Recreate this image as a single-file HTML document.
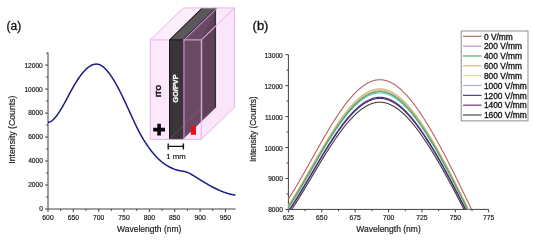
<!DOCTYPE html>
<html><head><meta charset="utf-8"><style>
html,body{margin:0;padding:0;background:#fff;}
svg{display:block;will-change:transform;filter:blur(0.3px);}
text{font-family:"Liberation Sans", sans-serif;}
.t{fill:#1a1a1a;stroke:#1a1a1a;stroke-width:0.18px;}
.t2{fill:#111;stroke:#111;stroke-width:0.3px;}
.t3{fill:#111;stroke:#111;stroke-width:0.3px;}
</style></head><body>
<svg width="533" height="238" viewBox="0 0 533 238">
<defs><clipPath id="purp"><polygon points="183.0,39.9 216.2,7.9 216.2,107.3 183.0,139.3"/></clipPath><clipPath id="rc"><rect x="288" y="40" width="201" height="169.5"/></clipPath></defs>
<rect width="533" height="238" fill="#fff"/>
<path d="M48.0,52.53 V209.0 H235.55" fill="none" stroke="#404040" stroke-width="1"/>
<line x1="45.0" y1="209.00" x2="48.0" y2="209.00" stroke="#404040" stroke-width="1"/>
<text x="42.8" y="211.40" font-size="6.6" text-anchor="end" class="t">0</text>
<line x1="46.2" y1="197.01" x2="48.0" y2="197.01" stroke="#404040" stroke-width="1"/>
<line x1="45.0" y1="185.02" x2="48.0" y2="185.02" stroke="#404040" stroke-width="1"/>
<text x="42.8" y="187.42" font-size="6.6" text-anchor="end" class="t">2000</text>
<line x1="46.2" y1="173.03" x2="48.0" y2="173.03" stroke="#404040" stroke-width="1"/>
<line x1="45.0" y1="161.04" x2="48.0" y2="161.04" stroke="#404040" stroke-width="1"/>
<text x="42.8" y="163.44" font-size="6.6" text-anchor="end" class="t">4000</text>
<line x1="46.2" y1="149.05" x2="48.0" y2="149.05" stroke="#404040" stroke-width="1"/>
<line x1="45.0" y1="137.06" x2="48.0" y2="137.06" stroke="#404040" stroke-width="1"/>
<text x="42.8" y="139.46" font-size="6.6" text-anchor="end" class="t">6000</text>
<line x1="46.2" y1="125.07" x2="48.0" y2="125.07" stroke="#404040" stroke-width="1"/>
<line x1="45.0" y1="113.08" x2="48.0" y2="113.08" stroke="#404040" stroke-width="1"/>
<text x="42.8" y="115.48" font-size="6.6" text-anchor="end" class="t">8000</text>
<line x1="46.2" y1="101.09" x2="48.0" y2="101.09" stroke="#404040" stroke-width="1"/>
<line x1="45.0" y1="89.10" x2="48.0" y2="89.10" stroke="#404040" stroke-width="1"/>
<text x="42.8" y="91.50" font-size="6.6" text-anchor="end" class="t">10000</text>
<line x1="46.2" y1="77.11" x2="48.0" y2="77.11" stroke="#404040" stroke-width="1"/>
<line x1="45.0" y1="65.12" x2="48.0" y2="65.12" stroke="#404040" stroke-width="1"/>
<text x="42.8" y="67.52" font-size="6.6" text-anchor="end" class="t">12000</text>
<line x1="46.2" y1="53.13" x2="48.0" y2="53.13" stroke="#404040" stroke-width="1"/>
<line x1="48.00" y1="209.0" x2="48.00" y2="212.0" stroke="#404040" stroke-width="1"/>
<text x="48.00" y="219.9" font-size="6.8" text-anchor="middle" class="t">600</text>
<line x1="60.67" y1="209.0" x2="60.67" y2="210.8" stroke="#404040" stroke-width="1"/>
<line x1="73.34" y1="209.0" x2="73.34" y2="212.0" stroke="#404040" stroke-width="1"/>
<text x="73.34" y="219.9" font-size="6.8" text-anchor="middle" class="t">650</text>
<line x1="86.02" y1="209.0" x2="86.02" y2="210.8" stroke="#404040" stroke-width="1"/>
<line x1="98.69" y1="209.0" x2="98.69" y2="212.0" stroke="#404040" stroke-width="1"/>
<text x="98.69" y="219.9" font-size="6.8" text-anchor="middle" class="t">700</text>
<line x1="111.36" y1="209.0" x2="111.36" y2="210.8" stroke="#404040" stroke-width="1"/>
<line x1="124.03" y1="209.0" x2="124.03" y2="212.0" stroke="#404040" stroke-width="1"/>
<text x="124.03" y="219.9" font-size="6.8" text-anchor="middle" class="t">750</text>
<line x1="136.71" y1="209.0" x2="136.71" y2="210.8" stroke="#404040" stroke-width="1"/>
<line x1="149.38" y1="209.0" x2="149.38" y2="212.0" stroke="#404040" stroke-width="1"/>
<text x="149.38" y="219.9" font-size="6.8" text-anchor="middle" class="t">800</text>
<line x1="162.05" y1="209.0" x2="162.05" y2="210.8" stroke="#404040" stroke-width="1"/>
<line x1="174.73" y1="209.0" x2="174.73" y2="212.0" stroke="#404040" stroke-width="1"/>
<text x="174.73" y="219.9" font-size="6.8" text-anchor="middle" class="t">850</text>
<line x1="187.40" y1="209.0" x2="187.40" y2="210.8" stroke="#404040" stroke-width="1"/>
<line x1="200.07" y1="209.0" x2="200.07" y2="212.0" stroke="#404040" stroke-width="1"/>
<text x="200.07" y="219.9" font-size="6.8" text-anchor="middle" class="t">900</text>
<line x1="212.74" y1="209.0" x2="212.74" y2="210.8" stroke="#404040" stroke-width="1"/>
<line x1="225.41" y1="209.0" x2="225.41" y2="212.0" stroke="#404040" stroke-width="1"/>
<text x="225.41" y="219.9" font-size="6.8" text-anchor="middle" class="t">950</text>
<text x="149.2" y="231.7" font-size="8.5" text-anchor="middle" class="t">Wavelength (nm)</text>
<text transform="translate(14.7,129.6) rotate(-90)" font-size="8.7" text-anchor="middle" class="t">Intensity (Counts)</text>
<path d="M48.0,122.43 L48.5,122.35 L49.0,122.23 L49.5,122.07 L50.0,121.86 L50.5,121.62 L51.0,121.33 L51.5,121.01 L52.0,120.65 L52.5,120.26 L53.0,119.83 L53.5,119.37 L54.0,118.87 L54.5,118.35 L55.0,117.79 L55.5,117.21 L56.0,116.60 L56.5,115.96 L57.0,115.30 L57.5,114.62 L58.0,113.91 L58.5,113.17 L59.0,112.42 L59.5,111.65 L60.0,110.86 L60.5,110.05 L61.0,109.23 L61.5,108.39 L62.0,107.53 L62.5,106.66 L63.0,105.78 L63.5,104.89 L64.0,104.00 L64.5,103.09 L65.0,102.17 L65.5,101.25 L66.0,100.32 L66.5,99.39 L67.0,98.46 L67.5,97.52 L68.0,96.58 L68.5,95.65 L69.0,94.71 L69.5,93.78 L70.0,92.85 L70.5,91.92 L71.0,91.01 L71.5,90.09 L72.0,89.19 L72.5,88.30 L73.0,87.41 L73.5,86.54 L74.0,85.68 L74.5,84.83 L75.0,83.99 L75.5,83.16 L76.0,82.35 L76.5,81.55 L77.0,80.76 L77.5,79.99 L78.0,79.23 L78.5,78.48 L79.0,77.75 L79.5,77.03 L80.0,76.33 L80.5,75.65 L81.0,74.98 L81.5,74.33 L82.0,73.69 L82.5,73.07 L83.0,72.47 L83.5,71.89 L84.0,71.32 L84.5,70.77 L85.0,70.24 L85.5,69.73 L86.0,69.25 L86.5,68.78 L87.0,68.33 L87.5,67.90 L88.0,67.49 L88.5,67.10 L89.0,66.74 L89.5,66.39 L90.0,66.07 L90.5,65.78 L91.0,65.50 L91.5,65.25 L92.0,65.02 L92.5,64.82 L93.0,64.64 L93.5,64.49 L94.0,64.36 L94.5,64.25 L95.0,64.18 L95.5,64.13 L96.0,64.10 L96.5,64.10 L97.0,64.13 L97.5,64.19 L98.0,64.28 L98.5,64.39 L99.0,64.53 L99.5,64.70 L100.0,64.90 L100.5,65.13 L101.0,65.39 L101.5,65.68 L102.0,66.00 L102.5,66.34 L103.0,66.71 L103.5,67.11 L104.0,67.53 L104.5,67.98 L105.0,68.45 L105.5,68.95 L106.0,69.47 L106.5,70.02 L107.0,70.58 L107.5,71.17 L108.0,71.78 L108.5,72.41 L109.0,73.06 L109.5,73.73 L110.0,74.42 L110.5,75.13 L111.0,75.86 L111.5,76.60 L112.0,77.36 L112.5,78.14 L113.0,78.93 L113.5,79.74 L114.0,80.57 L114.5,81.40 L115.0,82.26 L115.5,83.12 L116.0,84.00 L116.5,84.89 L117.0,85.80 L117.5,86.72 L118.0,87.65 L118.5,88.59 L119.0,89.55 L119.5,90.51 L120.0,91.49 L120.5,92.48 L121.0,93.48 L121.5,94.48 L122.0,95.50 L122.5,96.53 L123.0,97.57 L123.5,98.61 L124.0,99.66 L124.5,100.72 L125.0,101.79 L125.5,102.86 L126.0,103.94 L126.5,105.02 L127.0,106.11 L127.5,107.20 L128.0,108.29 L128.5,109.39 L129.0,110.48 L129.5,111.58 L130.0,112.68 L130.5,113.77 L131.0,114.86 L131.5,115.96 L132.0,117.05 L132.5,118.13 L133.0,119.21 L133.5,120.29 L134.0,121.36 L134.5,122.43 L135.0,123.49 L135.5,124.55 L136.0,125.59 L136.5,126.62 L137.0,127.65 L137.5,128.65 L138.0,129.65 L138.5,130.63 L139.0,131.59 L139.5,132.54 L140.0,133.47 L140.5,134.38 L141.0,135.28 L141.5,136.16 L142.0,137.03 L142.5,137.87 L143.0,138.71 L143.5,139.53 L144.0,140.33 L144.5,141.12 L145.0,141.90 L145.5,142.68 L146.0,143.46 L146.5,144.22 L147.0,144.97 L147.5,145.71 L148.0,146.43 L148.5,147.14 L149.0,147.85 L149.5,148.54 L150.0,149.21 L150.5,149.88 L151.0,150.53 L151.5,151.18 L152.0,151.81 L152.5,152.43 L153.0,153.04 L153.5,153.63 L154.0,154.22 L154.5,154.79 L155.0,155.36 L155.5,155.91 L156.0,156.45 L156.5,156.98 L157.0,157.49 L157.5,158.00 L158.0,158.50 L158.5,158.98 L159.0,159.46 L159.5,159.92 L160.0,160.37 L160.5,160.81 L161.0,161.24 L161.5,161.66 L162.0,162.07 L162.5,162.47 L163.0,162.86 L163.5,163.24 L164.0,163.61 L164.5,163.97 L165.0,164.31 L165.5,164.65 L166.0,164.98 L166.5,165.29 L167.0,165.60 L167.5,165.90 L168.0,166.19 L168.5,166.47 L169.0,166.74 L169.5,167.00 L170.0,167.26 L170.5,167.51 L171.0,167.75 L171.5,167.98 L172.0,168.20 L172.5,168.42 L173.0,168.63 L173.5,168.84 L174.0,169.04 L174.5,169.23 L175.0,169.42 L175.5,169.59 L176.0,169.76 L176.5,169.92 L177.0,170.07 L177.5,170.21 L178.0,170.34 L178.5,170.46 L179.0,170.56 L179.5,170.66 L180.0,170.74 L180.5,170.83 L181.0,170.90 L181.5,170.98 L182.0,171.06 L182.5,171.14 L183.0,171.23 L183.5,171.32 L184.0,171.41 L184.5,171.52 L185.0,171.64 L185.5,171.77 L186.0,171.92 L186.5,172.09 L187.0,172.27 L187.5,172.47 L188.0,172.68 L188.5,172.90 L189.0,173.14 L189.5,173.39 L190.0,173.64 L190.5,173.91 L191.0,174.19 L191.5,174.48 L192.0,174.77 L192.5,175.06 L193.0,175.37 L193.5,175.67 L194.0,175.98 L194.5,176.29 L195.0,176.61 L195.5,176.92 L196.0,177.23 L196.5,177.54 L197.0,177.86 L197.5,178.17 L198.0,178.48 L198.5,178.79 L199.0,179.10 L199.5,179.41 L200.0,179.72 L200.5,180.03 L201.0,180.34 L201.5,180.65 L202.0,180.96 L202.5,181.26 L203.0,181.57 L203.5,181.87 L204.0,182.17 L204.5,182.47 L205.0,182.77 L205.5,183.07 L206.0,183.36 L206.5,183.65 L207.0,183.95 L207.5,184.24 L208.0,184.52 L208.5,184.81 L209.0,185.09 L209.5,185.37 L210.0,185.65 L210.5,185.93 L211.0,186.20 L211.5,186.47 L212.0,186.74 L212.5,187.01 L213.0,187.27 L213.5,187.53 L214.0,187.79 L214.5,188.04 L215.0,188.29 L215.5,188.54 L216.0,188.78 L216.5,189.02 L217.0,189.26 L217.5,189.50 L218.0,189.73 L218.5,189.95 L219.0,190.18 L219.5,190.40 L220.0,190.61 L220.5,190.83 L221.0,191.04 L221.5,191.24 L222.0,191.44 L222.5,191.64 L223.0,191.83 L223.5,192.02 L224.0,192.20 L224.5,192.38 L225.0,192.56 L225.5,192.73 L226.0,192.90 L226.5,193.06 L227.0,193.22 L227.5,193.37 L228.0,193.52 L228.5,193.66 L229.0,193.80 L229.5,193.93 L230.0,194.06 L230.5,194.18 L231.0,194.30 L231.5,194.42 L232.0,194.52 L232.5,194.63 L233.0,194.72 L233.5,194.81 L234.0,194.90 L234.5,194.98 L235.0,195.06 L235.5,195.13" fill="none" stroke="#1b1b86" stroke-width="1.5" stroke-linejoin="round"/>
<path d="M288.4,54.70 V209.4 H488.69" fill="none" stroke="#404040" stroke-width="1"/>
<line x1="285.4" y1="209.40" x2="288.4" y2="209.40" stroke="#404040" stroke-width="1"/>
<text x="282.8" y="212.40" font-size="6.6" text-anchor="end" class="t">8000</text>
<line x1="286.59999999999997" y1="193.93" x2="288.4" y2="193.93" stroke="#404040" stroke-width="1"/>
<line x1="285.4" y1="178.46" x2="288.4" y2="178.46" stroke="#404040" stroke-width="1"/>
<text x="282.8" y="181.46" font-size="6.6" text-anchor="end" class="t">9000</text>
<line x1="286.59999999999997" y1="162.99" x2="288.4" y2="162.99" stroke="#404040" stroke-width="1"/>
<line x1="285.4" y1="147.52" x2="288.4" y2="147.52" stroke="#404040" stroke-width="1"/>
<text x="282.8" y="150.52" font-size="6.6" text-anchor="end" class="t">10000</text>
<line x1="286.59999999999997" y1="132.05" x2="288.4" y2="132.05" stroke="#404040" stroke-width="1"/>
<line x1="285.4" y1="116.58" x2="288.4" y2="116.58" stroke="#404040" stroke-width="1"/>
<text x="282.8" y="119.58" font-size="6.6" text-anchor="end" class="t">11000</text>
<line x1="286.59999999999997" y1="101.11" x2="288.4" y2="101.11" stroke="#404040" stroke-width="1"/>
<line x1="285.4" y1="85.64" x2="288.4" y2="85.64" stroke="#404040" stroke-width="1"/>
<text x="282.8" y="88.64" font-size="6.6" text-anchor="end" class="t">12000</text>
<line x1="286.59999999999997" y1="70.17" x2="288.4" y2="70.17" stroke="#404040" stroke-width="1"/>
<line x1="285.4" y1="54.70" x2="288.4" y2="54.70" stroke="#404040" stroke-width="1"/>
<text x="282.8" y="57.70" font-size="6.6" text-anchor="end" class="t">13000</text>
<line x1="288.40" y1="209.4" x2="288.40" y2="212.4" stroke="#404040" stroke-width="1"/>
<text x="288.40" y="219.9" font-size="6.8" text-anchor="middle" class="t">625</text>
<line x1="305.09" y1="209.4" x2="305.09" y2="211.20000000000002" stroke="#404040" stroke-width="1"/>
<line x1="321.78" y1="209.4" x2="321.78" y2="212.4" stroke="#404040" stroke-width="1"/>
<text x="321.78" y="219.9" font-size="6.8" text-anchor="middle" class="t">650</text>
<line x1="338.47" y1="209.4" x2="338.47" y2="211.20000000000002" stroke="#404040" stroke-width="1"/>
<line x1="355.16" y1="209.4" x2="355.16" y2="212.4" stroke="#404040" stroke-width="1"/>
<text x="355.16" y="219.9" font-size="6.8" text-anchor="middle" class="t">675</text>
<line x1="371.86" y1="209.4" x2="371.86" y2="211.20000000000002" stroke="#404040" stroke-width="1"/>
<line x1="388.55" y1="209.4" x2="388.55" y2="212.4" stroke="#404040" stroke-width="1"/>
<text x="388.55" y="219.9" font-size="6.8" text-anchor="middle" class="t">700</text>
<line x1="405.24" y1="209.4" x2="405.24" y2="211.20000000000002" stroke="#404040" stroke-width="1"/>
<line x1="421.93" y1="209.4" x2="421.93" y2="212.4" stroke="#404040" stroke-width="1"/>
<text x="421.93" y="219.9" font-size="6.8" text-anchor="middle" class="t">725</text>
<line x1="438.62" y1="209.4" x2="438.62" y2="211.20000000000002" stroke="#404040" stroke-width="1"/>
<line x1="455.31" y1="209.4" x2="455.31" y2="212.4" stroke="#404040" stroke-width="1"/>
<text x="455.31" y="219.9" font-size="6.8" text-anchor="middle" class="t">750</text>
<line x1="472.00" y1="209.4" x2="472.00" y2="211.20000000000002" stroke="#404040" stroke-width="1"/>
<line x1="488.69" y1="209.4" x2="488.69" y2="212.4" stroke="#404040" stroke-width="1"/>
<text x="488.69" y="219.9" font-size="6.8" text-anchor="middle" class="t">775</text>
<text x="388.55" y="231.7" font-size="8.5" text-anchor="middle" class="t">Wavelength (nm)</text>
<text transform="translate(255.8,129.2) rotate(-90)" font-size="8.4" text-anchor="middle" class="t">Intensity (Counts)</text>
<path d="M286.0,202.47 L286.5,201.74 L287.0,201.01 L287.5,200.27 L288.0,199.52 L288.5,198.77 L289.0,198.00 L289.5,197.24 L290.0,196.47 L290.5,195.69 L291.0,194.90 L291.5,194.11 L292.0,193.32 L292.5,192.52 L293.0,191.71 L293.5,190.90 L294.0,190.09 L294.5,189.27 L295.0,188.44 L295.5,187.61 L296.0,186.78 L296.5,185.94 L297.0,185.10 L297.5,184.25 L298.0,183.40 L298.5,182.55 L299.0,181.69 L299.5,180.83 L300.0,179.96 L300.5,179.10 L301.0,178.22 L301.5,177.35 L302.0,176.47 L302.5,175.59 L303.0,174.71 L303.5,173.83 L304.0,172.94 L304.5,172.05 L305.0,171.16 L305.5,170.28 L306.0,169.40 L306.5,168.51 L307.0,167.63 L307.5,166.74 L308.0,165.86 L308.5,164.97 L309.0,164.08 L309.5,163.19 L310.0,162.30 L310.5,161.41 L311.0,160.51 L311.5,159.62 L312.0,158.73 L312.5,157.83 L313.0,156.94 L313.5,156.04 L314.0,155.15 L314.5,154.26 L315.0,153.36 L315.5,152.47 L316.0,151.58 L316.5,150.69 L317.0,149.80 L317.5,148.91 L318.0,148.02 L318.5,147.13 L319.0,146.25 L319.5,145.36 L320.0,144.48 L320.5,143.60 L321.0,142.72 L321.5,141.84 L322.0,140.97 L322.5,140.10 L323.0,139.23 L323.5,138.36 L324.0,137.50 L324.5,136.63 L325.0,135.78 L325.5,134.92 L326.0,134.07 L326.5,133.22 L327.0,132.37 L327.5,131.53 L328.0,130.69 L328.5,129.86 L329.0,129.03 L329.5,128.20 L330.0,127.38 L330.5,126.56 L331.0,125.74 L331.5,124.93 L332.0,124.13 L332.5,123.33 L333.0,122.53 L333.5,121.74 L334.0,120.96 L334.5,120.18 L335.0,119.41 L335.5,118.62 L336.0,117.85 L336.5,117.07 L337.0,116.31 L337.5,115.55 L338.0,114.79 L338.5,114.04 L339.0,113.30 L339.5,112.56 L340.0,111.83 L340.5,111.10 L341.0,110.39 L341.5,109.67 L342.0,108.97 L342.5,108.27 L343.0,107.58 L343.5,106.89 L344.0,106.21 L344.5,105.54 L345.0,104.87 L345.5,104.21 L346.0,103.56 L346.5,102.92 L347.0,102.28 L347.5,101.65 L348.0,101.03 L348.5,100.41 L349.0,99.80 L349.5,99.20 L350.0,98.61 L350.5,98.02 L351.0,97.45 L351.5,96.88 L352.0,96.31 L352.5,95.76 L353.0,95.21 L353.5,94.68 L354.0,94.15 L354.5,93.62 L355.0,93.11 L355.5,92.61 L356.0,92.11 L356.5,91.62 L357.0,91.14 L357.5,90.67 L358.0,90.21 L358.5,89.76 L359.0,89.32 L359.5,88.88 L360.0,88.46 L360.5,88.04 L361.0,87.63 L361.5,87.23 L362.0,86.85 L362.5,86.47 L363.0,86.10 L363.5,85.74 L364.0,85.39 L364.5,85.05 L365.0,84.71 L365.5,84.39 L366.0,84.08 L366.5,83.78 L367.0,83.49 L367.5,83.21 L368.0,82.94 L368.5,82.68 L369.0,82.43 L369.5,82.19 L370.0,81.96 L370.5,81.74 L371.0,81.54 L371.5,81.34 L372.0,81.15 L372.5,80.98 L373.0,80.82 L373.5,80.66 L374.0,80.52 L374.5,80.39 L375.0,80.27 L375.5,80.16 L376.0,80.07 L376.5,79.98 L377.0,79.91 L377.5,79.85 L378.0,79.80 L378.5,79.76 L379.0,79.73 L379.5,79.72 L380.0,79.72 L380.5,79.73 L381.0,79.75 L381.5,79.78 L382.0,79.83 L382.5,79.88 L383.0,79.95 L383.5,80.03 L384.0,80.13 L384.5,80.23 L385.0,80.35 L385.5,80.47 L386.0,80.61 L386.5,80.76 L387.0,80.92 L387.5,81.09 L388.0,81.28 L388.5,81.47 L389.0,81.67 L389.5,81.89 L390.0,82.12 L390.5,82.35 L391.0,82.60 L391.5,82.86 L392.0,83.13 L392.5,83.40 L393.0,83.69 L393.5,83.99 L394.0,84.30 L394.5,84.62 L395.0,84.95 L395.5,85.29 L396.0,85.64 L396.5,86.00 L397.0,86.37 L397.5,86.75 L398.0,87.13 L398.5,87.53 L399.0,87.94 L399.5,88.36 L400.0,88.78 L400.5,89.22 L401.0,89.66 L401.5,90.11 L402.0,90.58 L402.5,91.05 L403.0,91.53 L403.5,92.02 L404.0,92.52 L404.5,93.02 L405.0,93.54 L405.5,94.06 L406.0,94.59 L406.5,95.13 L407.0,95.68 L407.5,96.24 L408.0,96.80 L408.5,97.38 L409.0,97.96 L409.5,98.55 L410.0,99.14 L410.5,99.75 L411.0,100.36 L411.5,100.98 L412.0,101.61 L412.5,102.25 L413.0,102.89 L413.5,103.54 L414.0,104.20 L414.5,104.86 L415.0,105.54 L415.5,106.21 L416.0,106.90 L416.5,107.59 L417.0,108.29 L417.5,109.00 L418.0,109.71 L418.5,110.44 L419.0,111.16 L419.5,111.90 L420.0,112.64 L420.5,113.38 L421.0,114.13 L421.5,114.89 L422.0,115.66 L422.5,116.43 L423.0,117.21 L423.5,117.99 L424.0,118.78 L424.5,119.57 L425.0,120.38 L425.5,121.17 L426.0,121.96 L426.5,122.77 L427.0,123.57 L427.5,124.39 L428.0,125.21 L428.5,126.03 L429.0,126.86 L429.5,127.69 L430.0,128.53 L430.5,129.38 L431.0,130.23 L431.5,131.08 L432.0,131.94 L432.5,132.80 L433.0,133.67 L433.5,134.54 L434.0,135.42 L434.5,136.30 L435.0,137.19 L435.5,138.08 L436.0,138.97 L436.5,139.87 L437.0,140.77 L437.5,141.68 L438.0,142.59 L438.5,143.50 L439.0,144.42 L439.5,145.34 L440.0,146.27 L440.5,147.20 L441.0,148.13 L441.5,149.06 L442.0,150.00 L442.5,150.94 L443.0,151.89 L443.5,152.84 L444.0,153.79 L444.5,154.74 L445.0,155.70 L445.5,156.66 L446.0,157.62 L446.5,158.59 L447.0,159.56 L447.5,160.53 L448.0,161.50 L448.5,162.48 L449.0,163.46 L449.5,164.44 L450.0,165.42 L450.5,166.40 L451.0,167.39 L451.5,168.38 L452.0,169.37 L452.5,170.36 L453.0,171.35 L453.5,172.35 L454.0,173.35 L454.5,174.35 L455.0,175.35 L455.5,176.36 L456.0,177.38 L456.5,178.40 L457.0,179.42 L457.5,180.44 L458.0,181.46 L458.5,182.49 L459.0,183.51 L459.5,184.54 L460.0,185.56 L460.5,186.59 L461.0,187.62 L461.5,188.65 L462.0,189.68 L462.5,190.70 L463.0,191.73 L463.5,192.76 L464.0,193.79 L464.5,194.82 L465.0,195.85 L465.5,196.88 L466.0,197.91 L466.5,198.94 L467.0,199.97 L467.5,201.00 L468.0,202.03 L468.5,203.06 L469.0,204.08 L469.5,205.11 L470.0,206.14 L470.5,207.16 L471.0,208.19 L471.5,209.21 L472.0,210.23 L472.5,211.26 L473.0,212.28 L473.5,213.30 L474.0,214.32 L474.5,215.33 L475.0,216.35 L475.5,217.36 L476.0,218.38 L476.5,219.39 L477.0,220.40 L477.5,221.40 L478.0,222.41 L478.5,223.41 L479.0,224.42 L479.5,225.42" fill="none" stroke="#b06262" stroke-width="1.1" clip-path="url(#rc)"/>
<path d="M286.0,209.81 L286.5,209.11 L287.0,208.39 L287.5,207.67 L288.0,206.95 L288.5,206.21 L289.0,205.48 L289.5,204.73 L290.0,203.98 L290.5,203.22 L291.0,202.46 L291.5,201.70 L292.0,200.92 L292.5,200.15 L293.0,199.37 L293.5,198.58 L294.0,197.79 L294.5,196.99 L295.0,196.19 L295.5,195.38 L296.0,194.57 L296.5,193.76 L297.0,192.94 L297.5,192.12 L298.0,191.29 L298.5,190.46 L299.0,189.63 L299.5,188.79 L300.0,187.95 L300.5,187.11 L301.0,186.27 L301.5,185.42 L302.0,184.56 L302.5,183.71 L303.0,182.85 L303.5,181.99 L304.0,181.13 L304.5,180.27 L305.0,179.40 L305.5,178.55 L306.0,177.69 L306.5,176.84 L307.0,175.98 L307.5,175.12 L308.0,174.26 L308.5,173.39 L309.0,172.53 L309.5,171.66 L310.0,170.80 L310.5,169.93 L311.0,169.06 L311.5,168.20 L312.0,167.33 L312.5,166.46 L313.0,165.59 L313.5,164.73 L314.0,163.86 L314.5,162.99 L315.0,162.12 L315.5,161.26 L316.0,160.39 L316.5,159.52 L317.0,158.66 L317.5,157.79 L318.0,156.93 L318.5,156.07 L319.0,155.21 L319.5,154.35 L320.0,153.50 L320.5,152.64 L321.0,151.79 L321.5,150.94 L322.0,150.09 L322.5,149.24 L323.0,148.39 L323.5,147.55 L324.0,146.71 L324.5,145.88 L325.0,145.04 L325.5,144.21 L326.0,143.38 L326.5,142.56 L327.0,141.74 L327.5,140.92 L328.0,140.10 L328.5,139.29 L329.0,138.49 L329.5,137.68 L330.0,136.88 L330.5,136.09 L331.0,135.30 L331.5,134.51 L332.0,133.73 L332.5,132.95 L333.0,132.18 L333.5,131.42 L334.0,130.65 L334.5,129.90 L335.0,129.15 L335.5,128.38 L336.0,127.63 L336.5,126.88 L337.0,126.13 L337.5,125.40 L338.0,124.66 L338.5,123.93 L339.0,123.21 L339.5,122.50 L340.0,121.79 L340.5,121.08 L341.0,120.38 L341.5,119.69 L342.0,119.01 L342.5,118.33 L343.0,117.66 L343.5,116.99 L344.0,116.33 L344.5,115.68 L345.0,115.03 L345.5,114.39 L346.0,113.76 L346.5,113.13 L347.0,112.51 L347.5,111.90 L348.0,111.29 L348.5,110.70 L349.0,110.11 L349.5,109.52 L350.0,108.95 L350.5,108.38 L351.0,107.82 L351.5,107.26 L352.0,106.72 L352.5,106.18 L353.0,105.65 L353.5,105.13 L354.0,104.61 L354.5,104.11 L355.0,103.61 L355.5,103.12 L356.0,102.64 L356.5,102.16 L357.0,101.70 L357.5,101.24 L358.0,100.79 L358.5,100.35 L359.0,99.92 L359.5,99.50 L360.0,99.09 L360.5,98.68 L361.0,98.29 L361.5,97.90 L362.0,97.52 L362.5,97.16 L363.0,96.80 L363.5,96.45 L364.0,96.11 L364.5,95.78 L365.0,95.45 L365.5,95.14 L366.0,94.84 L366.5,94.55 L367.0,94.27 L367.5,93.99 L368.0,93.73 L368.5,93.48 L369.0,93.24 L369.5,93.00 L370.0,92.78 L370.5,92.57 L371.0,92.37 L371.5,92.18 L372.0,92.00 L372.5,91.83 L373.0,91.67 L373.5,91.52 L374.0,91.38 L374.5,91.25 L375.0,91.14 L375.5,91.03 L376.0,90.94 L376.5,90.86 L377.0,90.79 L377.5,90.73 L378.0,90.68 L378.5,90.64 L379.0,90.62 L379.5,90.60 L380.0,90.60 L380.5,90.61 L381.0,90.63 L381.5,90.66 L382.0,90.71 L382.5,90.76 L383.0,90.83 L383.5,90.91 L384.0,91.00 L384.5,91.10 L385.0,91.21 L385.5,91.34 L386.0,91.47 L386.5,91.61 L387.0,91.77 L387.5,91.94 L388.0,92.11 L388.5,92.30 L389.0,92.50 L389.5,92.71 L390.0,92.93 L390.5,93.16 L391.0,93.40 L391.5,93.65 L392.0,93.91 L392.5,94.18 L393.0,94.46 L393.5,94.75 L394.0,95.05 L394.5,95.36 L395.0,95.68 L395.5,96.01 L396.0,96.35 L396.5,96.70 L397.0,97.06 L397.5,97.43 L398.0,97.80 L398.5,98.19 L399.0,98.59 L399.5,98.99 L400.0,99.40 L400.5,99.83 L401.0,100.26 L401.5,100.70 L402.0,101.15 L402.5,101.60 L403.0,102.07 L403.5,102.55 L404.0,103.03 L404.5,103.52 L405.0,104.02 L405.5,104.53 L406.0,105.05 L406.5,105.57 L407.0,106.10 L407.5,106.65 L408.0,107.19 L408.5,107.75 L409.0,108.32 L409.5,108.89 L410.0,109.47 L410.5,110.06 L411.0,110.65 L411.5,111.25 L412.0,111.86 L412.5,112.48 L413.0,113.10 L413.5,113.74 L414.0,114.38 L414.5,115.02 L415.0,115.67 L415.5,116.33 L416.0,117.00 L416.5,117.67 L417.0,118.35 L417.5,119.04 L418.0,119.73 L418.5,120.43 L419.0,121.14 L419.5,121.85 L420.0,122.57 L420.5,123.29 L421.0,124.03 L421.5,124.76 L422.0,125.51 L422.5,126.25 L423.0,127.01 L423.5,127.77 L424.0,128.54 L424.5,129.31 L425.0,130.09 L425.5,130.85 L426.0,131.63 L426.5,132.41 L427.0,133.19 L427.5,133.98 L428.0,134.78 L428.5,135.58 L429.0,136.38 L429.5,137.19 L430.0,138.01 L430.5,138.83 L431.0,139.65 L431.5,140.48 L432.0,141.32 L432.5,142.15 L433.0,143.00 L433.5,143.85 L434.0,144.70 L434.5,145.55 L435.0,146.41 L435.5,147.28 L436.0,148.15 L436.5,149.02 L437.0,149.89 L437.5,150.77 L438.0,151.66 L438.5,152.55 L439.0,153.44 L439.5,154.33 L440.0,155.23 L440.5,156.13 L441.0,157.04 L441.5,157.95 L442.0,158.86 L442.5,159.77 L443.0,160.69 L443.5,161.61 L444.0,162.54 L444.5,163.46 L445.0,164.39 L445.5,165.32 L446.0,166.26 L446.5,167.20 L447.0,168.14 L447.5,169.08 L448.0,170.03 L448.5,170.97 L449.0,171.92 L449.5,172.87 L450.0,173.83 L450.5,174.78 L451.0,175.74 L451.5,176.70 L452.0,177.66 L452.5,178.63 L453.0,179.59 L453.5,180.56 L454.0,181.53 L454.5,182.50 L455.0,183.47 L455.5,184.46 L456.0,185.45 L456.5,186.44 L457.0,187.43 L457.5,188.42 L458.0,189.41 L458.5,190.41 L459.0,191.40 L459.5,192.40 L460.0,193.39 L460.5,194.39 L461.0,195.39 L461.5,196.39 L462.0,197.39 L462.5,198.39 L463.0,199.38 L463.5,200.38 L464.0,201.38 L464.5,202.38 L465.0,203.38 L465.5,204.38 L466.0,205.38 L466.5,206.38 L467.0,207.38 L467.5,208.38 L468.0,209.38 L468.5,210.38 L469.0,211.38 L469.5,212.38 L470.0,213.37 L470.5,214.37 L471.0,215.36 L471.5,216.36 L472.0,217.35 L472.5,218.34 L473.0,219.34 L473.5,220.33 L474.0,221.32 L474.5,222.30 L475.0,223.29 L475.5,224.27 L476.0,225.26 L476.5,226.24 L477.0,227.22 L477.5,228.20 L478.0,229.18 L478.5,230.15 L479.0,231.13 L479.5,232.10" fill="none" stroke="#b880d8" stroke-width="1.1" clip-path="url(#rc)"/>
<path d="M286.0,211.43 L286.5,210.73 L287.0,210.02 L287.5,209.31 L288.0,208.58 L288.5,207.86 L289.0,207.12 L289.5,206.38 L290.0,205.64 L290.5,204.89 L291.0,204.13 L291.5,203.37 L292.0,202.60 L292.5,201.83 L293.0,201.05 L293.5,200.27 L294.0,199.48 L294.5,198.69 L295.0,197.90 L295.5,197.10 L296.0,196.29 L296.5,195.48 L297.0,194.67 L297.5,193.85 L298.0,193.03 L298.5,192.21 L299.0,191.38 L299.5,190.55 L300.0,189.72 L300.5,188.88 L301.0,188.04 L301.5,187.20 L302.0,186.35 L302.5,185.50 L303.0,184.65 L303.5,183.79 L304.0,182.94 L304.5,182.08 L305.0,181.22 L305.5,180.37 L306.0,179.52 L306.5,178.67 L307.0,177.82 L307.5,176.96 L308.0,176.11 L308.5,175.25 L309.0,174.39 L309.5,173.53 L310.0,172.67 L310.5,171.81 L311.0,170.95 L311.5,170.09 L312.0,169.23 L312.5,168.36 L313.0,167.50 L313.5,166.64 L314.0,165.78 L314.5,164.92 L315.0,164.05 L315.5,163.19 L316.0,162.33 L316.5,161.47 L317.0,160.61 L317.5,159.75 L318.0,158.90 L318.5,158.04 L319.0,157.19 L319.5,156.33 L320.0,155.48 L320.5,154.63 L321.0,153.79 L321.5,152.94 L322.0,152.10 L322.5,151.26 L323.0,150.42 L323.5,149.58 L324.0,148.75 L324.5,147.91 L325.0,147.09 L325.5,146.26 L326.0,145.44 L326.5,144.62 L327.0,143.80 L327.5,142.99 L328.0,142.18 L328.5,141.37 L329.0,140.57 L329.5,139.77 L330.0,138.98 L330.5,138.19 L331.0,137.41 L331.5,136.63 L332.0,135.85 L332.5,135.08 L333.0,134.31 L333.5,133.55 L334.0,132.79 L334.5,132.04 L335.0,131.29 L335.5,130.54 L336.0,129.79 L336.5,129.04 L337.0,128.30 L337.5,127.57 L338.0,126.84 L338.5,126.12 L339.0,125.40 L339.5,124.69 L340.0,123.98 L340.5,123.28 L341.0,122.59 L341.5,121.90 L342.0,121.22 L342.5,120.55 L343.0,119.88 L343.5,119.22 L344.0,118.56 L344.5,117.91 L345.0,117.27 L345.5,116.63 L346.0,116.01 L346.5,115.38 L347.0,114.77 L347.5,114.16 L348.0,113.56 L348.5,112.97 L349.0,112.38 L349.5,111.80 L350.0,111.23 L350.5,110.66 L351.0,110.10 L351.5,109.55 L352.0,109.01 L352.5,108.48 L353.0,107.95 L353.5,107.43 L354.0,106.92 L354.5,106.42 L355.0,105.92 L355.5,105.44 L356.0,104.96 L356.5,104.49 L357.0,104.03 L357.5,103.57 L358.0,103.13 L358.5,102.69 L359.0,102.26 L359.5,101.84 L360.0,101.43 L360.5,101.03 L361.0,100.64 L361.5,100.25 L362.0,99.88 L362.5,99.51 L363.0,99.16 L363.5,98.81 L364.0,98.47 L364.5,98.14 L365.0,97.82 L365.5,97.51 L366.0,97.21 L366.5,96.92 L367.0,96.64 L367.5,96.37 L368.0,96.11 L368.5,95.86 L369.0,95.62 L369.5,95.39 L370.0,95.17 L370.5,94.96 L371.0,94.76 L371.5,94.57 L372.0,94.39 L372.5,94.22 L373.0,94.06 L373.5,93.91 L374.0,93.78 L374.5,93.65 L375.0,93.54 L375.5,93.43 L376.0,93.34 L376.5,93.26 L377.0,93.19 L377.5,93.13 L378.0,93.08 L378.5,93.04 L379.0,93.02 L379.5,93.00 L380.0,93.00 L380.5,93.01 L381.0,93.03 L381.5,93.06 L382.0,93.11 L382.5,93.16 L383.0,93.23 L383.5,93.31 L384.0,93.40 L384.5,93.50 L385.0,93.61 L385.5,93.73 L386.0,93.86 L386.5,94.01 L387.0,94.16 L387.5,94.33 L388.0,94.50 L388.5,94.69 L389.0,94.89 L389.5,95.10 L390.0,95.31 L390.5,95.54 L391.0,95.78 L391.5,96.03 L392.0,96.29 L392.5,96.56 L393.0,96.84 L393.5,97.13 L394.0,97.42 L394.5,97.73 L395.0,98.05 L395.5,98.38 L396.0,98.71 L396.5,99.06 L397.0,99.42 L397.5,99.78 L398.0,100.16 L398.5,100.54 L399.0,100.93 L399.5,101.34 L400.0,101.75 L400.5,102.17 L401.0,102.59 L401.5,103.03 L402.0,103.48 L402.5,103.93 L403.0,104.40 L403.5,104.87 L404.0,105.35 L404.5,105.84 L405.0,106.33 L405.5,106.84 L406.0,107.35 L406.5,107.87 L407.0,108.40 L407.5,108.94 L408.0,109.49 L408.5,110.04 L409.0,110.60 L409.5,111.17 L410.0,111.74 L410.5,112.33 L411.0,112.92 L411.5,113.52 L412.0,114.12 L412.5,114.74 L413.0,115.36 L413.5,115.99 L414.0,116.62 L414.5,117.26 L415.0,117.91 L415.5,118.56 L416.0,119.23 L416.5,119.90 L417.0,120.57 L417.5,121.25 L418.0,121.94 L418.5,122.64 L419.0,123.34 L419.5,124.05 L420.0,124.76 L420.5,125.48 L421.0,126.21 L421.5,126.94 L422.0,127.68 L422.5,128.42 L423.0,129.17 L423.5,129.93 L424.0,130.69 L424.5,131.45 L425.0,132.23 L425.5,132.99 L426.0,133.76 L426.5,134.53 L427.0,135.31 L427.5,136.10 L428.0,136.89 L428.5,137.68 L429.0,138.48 L429.5,139.29 L430.0,140.10 L430.5,140.91 L431.0,141.73 L431.5,142.56 L432.0,143.38 L432.5,144.22 L433.0,145.05 L433.5,145.90 L434.0,146.74 L434.5,147.59 L435.0,148.45 L435.5,149.31 L436.0,150.17 L436.5,151.04 L437.0,151.91 L437.5,152.78 L438.0,153.66 L438.5,154.54 L439.0,155.43 L439.5,156.31 L440.0,157.21 L440.5,158.10 L441.0,159.00 L441.5,159.91 L442.0,160.81 L442.5,161.72 L443.0,162.63 L443.5,163.55 L444.0,164.46 L444.5,165.39 L445.0,166.31 L445.5,167.24 L446.0,168.16 L446.5,169.10 L447.0,170.03 L447.5,170.97 L448.0,171.91 L448.5,172.85 L449.0,173.79 L449.5,174.74 L450.0,175.68 L450.5,176.63 L451.0,177.59 L451.5,178.54 L452.0,179.49 L452.5,180.45 L453.0,181.41 L453.5,182.37 L454.0,183.33 L454.5,184.30 L455.0,185.26 L455.5,186.24 L456.0,187.23 L456.5,188.21 L457.0,189.19 L457.5,190.18 L458.0,191.17 L458.5,192.15 L459.0,193.14 L459.5,194.13 L460.0,195.12 L460.5,196.11 L461.0,197.10 L461.5,198.09 L462.0,199.09 L462.5,200.08 L463.0,201.07 L463.5,202.07 L464.0,203.06 L464.5,204.05 L465.0,205.05 L465.5,206.04 L466.0,207.03 L466.5,208.03 L467.0,209.02 L467.5,210.01 L468.0,211.00 L468.5,212.00 L469.0,212.99 L469.5,213.98 L470.0,214.97 L470.5,215.96 L471.0,216.95 L471.5,217.93 L472.0,218.92 L472.5,219.91 L473.0,220.89 L473.5,221.88 L474.0,222.86 L474.5,223.84 L475.0,224.82 L475.5,225.80 L476.0,226.78 L476.5,227.75 L477.0,228.73 L477.5,229.70 L478.0,230.67 L478.5,231.64 L479.0,232.60 L479.5,233.57" fill="none" stroke="#68d0c8" stroke-width="1.1" clip-path="url(#rc)"/>
<path d="M286.0,209.41 L286.5,208.70 L287.0,207.99 L287.5,207.26 L288.0,206.54 L288.5,205.80 L289.0,205.06 L289.5,204.32 L290.0,203.57 L290.5,202.81 L291.0,202.05 L291.5,201.28 L292.0,200.51 L292.5,199.73 L293.0,198.94 L293.5,198.16 L294.0,197.36 L294.5,196.56 L295.0,195.76 L295.5,194.95 L296.0,194.14 L296.5,193.33 L297.0,192.51 L297.5,191.69 L298.0,190.86 L298.5,190.03 L299.0,189.19 L299.5,188.36 L300.0,187.51 L300.5,186.67 L301.0,185.82 L301.5,184.97 L302.0,184.12 L302.5,183.26 L303.0,182.40 L303.5,181.54 L304.0,180.68 L304.5,179.81 L305.0,178.95 L305.5,178.09 L306.0,177.24 L306.5,176.38 L307.0,175.52 L307.5,174.66 L308.0,173.79 L308.5,172.93 L309.0,172.06 L309.5,171.20 L310.0,170.33 L310.5,169.46 L311.0,168.59 L311.5,167.72 L312.0,166.86 L312.5,165.99 L313.0,165.12 L313.5,164.25 L314.0,163.38 L314.5,162.51 L315.0,161.64 L315.5,160.77 L316.0,159.90 L316.5,159.04 L317.0,158.17 L317.5,157.30 L318.0,156.44 L318.5,155.58 L319.0,154.72 L319.5,153.86 L320.0,153.00 L320.5,152.14 L321.0,151.29 L321.5,150.43 L322.0,149.58 L322.5,148.74 L323.0,147.89 L323.5,147.05 L324.0,146.20 L324.5,145.37 L325.0,144.53 L325.5,143.70 L326.0,142.87 L326.5,142.04 L327.0,141.22 L327.5,140.40 L328.0,139.59 L328.5,138.77 L329.0,137.96 L329.5,137.16 L330.0,136.36 L330.5,135.56 L331.0,134.77 L331.5,133.98 L332.0,133.20 L332.5,132.42 L333.0,131.65 L333.5,130.88 L334.0,130.12 L334.5,129.36 L335.0,128.61 L335.5,127.85 L336.0,127.09 L336.5,126.34 L337.0,125.59 L337.5,124.85 L338.0,124.12 L338.5,123.39 L339.0,122.67 L339.5,121.95 L340.0,121.24 L340.5,120.53 L341.0,119.83 L341.5,119.14 L342.0,118.45 L342.5,117.77 L343.0,117.10 L343.5,116.43 L344.0,115.77 L344.5,115.12 L345.0,114.47 L345.5,113.83 L346.0,113.20 L346.5,112.57 L347.0,111.95 L347.5,111.33 L348.0,110.73 L348.5,110.13 L349.0,109.54 L349.5,108.95 L350.0,108.38 L350.5,107.81 L351.0,107.25 L351.5,106.69 L352.0,106.14 L352.5,105.61 L353.0,105.07 L353.5,104.55 L354.0,104.04 L354.5,103.53 L355.0,103.03 L355.5,102.54 L356.0,102.06 L356.5,101.58 L357.0,101.12 L357.5,100.66 L358.0,100.21 L358.5,99.77 L359.0,99.34 L359.5,98.92 L360.0,98.50 L360.5,98.10 L361.0,97.70 L361.5,97.31 L362.0,96.93 L362.5,96.57 L363.0,96.21 L363.5,95.86 L364.0,95.52 L364.5,95.18 L365.0,94.86 L365.5,94.55 L366.0,94.25 L366.5,93.95 L367.0,93.67 L367.5,93.40 L368.0,93.14 L368.5,92.88 L369.0,92.64 L369.5,92.41 L370.0,92.18 L370.5,91.97 L371.0,91.77 L371.5,91.58 L372.0,91.40 L372.5,91.23 L373.0,91.07 L373.5,90.92 L374.0,90.78 L374.5,90.66 L375.0,90.54 L375.5,90.43 L376.0,90.34 L376.5,90.26 L377.0,90.19 L377.5,90.13 L378.0,90.08 L378.5,90.04 L379.0,90.02 L379.5,90.00 L380.0,90.00 L380.5,90.01 L381.0,90.03 L381.5,90.06 L382.0,90.11 L382.5,90.16 L383.0,90.23 L383.5,90.31 L384.0,90.40 L384.5,90.50 L385.0,90.61 L385.5,90.74 L386.0,90.87 L386.5,91.02 L387.0,91.17 L387.5,91.34 L388.0,91.52 L388.5,91.71 L389.0,91.90 L389.5,92.11 L390.0,92.33 L390.5,92.56 L391.0,92.80 L391.5,93.06 L392.0,93.32 L392.5,93.59 L393.0,93.87 L393.5,94.16 L394.0,94.46 L394.5,94.77 L395.0,95.09 L395.5,95.42 L396.0,95.76 L396.5,96.11 L397.0,96.47 L397.5,96.84 L398.0,97.22 L398.5,97.60 L399.0,98.00 L399.5,98.40 L400.0,98.82 L400.5,99.24 L401.0,99.67 L401.5,100.11 L402.0,100.56 L402.5,101.02 L403.0,101.49 L403.5,101.97 L404.0,102.45 L404.5,102.94 L405.0,103.44 L405.5,103.95 L406.0,104.47 L406.5,105.00 L407.0,105.53 L407.5,106.07 L408.0,106.62 L408.5,107.18 L409.0,107.74 L409.5,108.32 L410.0,108.90 L410.5,109.49 L411.0,110.08 L411.5,110.69 L412.0,111.30 L412.5,111.92 L413.0,112.54 L413.5,113.17 L414.0,113.81 L414.5,114.46 L415.0,115.11 L415.5,115.78 L416.0,116.44 L416.5,117.12 L417.0,117.80 L417.5,118.49 L418.0,119.18 L418.5,119.88 L419.0,120.59 L419.5,121.30 L420.0,122.02 L420.5,122.75 L421.0,123.48 L421.5,124.22 L422.0,124.96 L422.5,125.71 L423.0,126.47 L423.5,127.23 L424.0,128.00 L424.5,128.77 L425.0,129.55 L425.5,130.32 L426.0,131.10 L426.5,131.88 L427.0,132.66 L427.5,133.45 L428.0,134.25 L428.5,135.05 L429.0,135.86 L429.5,136.67 L430.0,137.49 L430.5,138.31 L431.0,139.13 L431.5,139.96 L432.0,140.80 L432.5,141.64 L433.0,142.48 L433.5,143.33 L434.0,144.19 L434.5,145.04 L435.0,145.90 L435.5,146.77 L436.0,147.64 L436.5,148.51 L437.0,149.39 L437.5,150.27 L438.0,151.16 L438.5,152.05 L439.0,152.94 L439.5,153.84 L440.0,154.74 L440.5,155.64 L441.0,156.55 L441.5,157.46 L442.0,158.37 L442.5,159.29 L443.0,160.21 L443.5,161.13 L444.0,162.05 L444.5,162.98 L445.0,163.91 L445.5,164.85 L446.0,165.78 L446.5,166.72 L447.0,167.66 L447.5,168.61 L448.0,169.56 L448.5,170.50 L449.0,171.46 L449.5,172.41 L450.0,173.37 L450.5,174.32 L451.0,175.28 L451.5,176.24 L452.0,177.21 L452.5,178.17 L453.0,179.14 L453.5,180.11 L454.0,181.08 L454.5,182.05 L455.0,183.02 L455.5,184.01 L456.0,185.00 L456.5,185.99 L457.0,186.99 L457.5,187.98 L458.0,188.97 L458.5,189.97 L459.0,190.97 L459.5,191.96 L460.0,192.96 L460.5,193.96 L461.0,194.96 L461.5,195.96 L462.0,196.96 L462.5,197.96 L463.0,198.96 L463.5,199.96 L464.0,200.97 L464.5,201.97 L465.0,202.97 L465.5,203.97 L466.0,204.97 L466.5,205.97 L467.0,206.98 L467.5,207.98 L468.0,208.98 L468.5,209.98 L469.0,210.98 L469.5,211.98 L470.0,212.97 L470.5,213.97 L471.0,214.97 L471.5,215.96 L472.0,216.96 L472.5,217.95 L473.0,218.95 L473.5,219.94 L474.0,220.93 L474.5,221.92 L475.0,222.91 L475.5,223.89 L476.0,224.88 L476.5,225.86 L477.0,226.84 L477.5,227.83 L478.0,228.80 L478.5,229.78 L479.0,230.76 L479.5,231.73" fill="none" stroke="#e2dc80" stroke-width="1.1" clip-path="url(#rc)"/>
<path d="M286.0,208.67 L286.5,207.96 L287.0,207.24 L287.5,206.52 L288.0,205.79 L288.5,205.05 L289.0,204.31 L289.5,203.56 L290.0,202.81 L290.5,202.05 L291.0,201.28 L291.5,200.51 L292.0,199.74 L292.5,198.96 L293.0,198.17 L293.5,197.38 L294.0,196.58 L294.5,195.78 L295.0,194.98 L295.5,194.17 L296.0,193.36 L296.5,192.54 L297.0,191.72 L297.5,190.89 L298.0,190.06 L298.5,189.23 L299.0,188.39 L299.5,187.55 L300.0,186.71 L300.5,185.86 L301.0,185.01 L301.5,184.16 L302.0,183.30 L302.5,182.44 L303.0,181.58 L303.5,180.72 L304.0,179.85 L304.5,178.98 L305.0,178.11 L305.5,177.26 L306.0,176.40 L306.5,175.54 L307.0,174.67 L307.5,173.81 L308.0,172.94 L308.5,172.08 L309.0,171.21 L309.5,170.34 L310.0,169.47 L310.5,168.60 L311.0,167.73 L311.5,166.86 L312.0,165.99 L312.5,165.11 L313.0,164.24 L313.5,163.37 L314.0,162.50 L314.5,161.63 L315.0,160.75 L315.5,159.88 L316.0,159.01 L316.5,158.14 L317.0,157.27 L317.5,156.41 L318.0,155.54 L318.5,154.67 L319.0,153.81 L319.5,152.95 L320.0,152.09 L320.5,151.23 L321.0,150.37 L321.5,149.52 L322.0,148.66 L322.5,147.81 L323.0,146.96 L323.5,146.12 L324.0,145.27 L324.5,144.43 L325.0,143.59 L325.5,142.76 L326.0,141.93 L326.5,141.10 L327.0,140.27 L327.5,139.45 L328.0,138.63 L328.5,137.82 L329.0,137.01 L329.5,136.20 L330.0,135.40 L330.5,134.60 L331.0,133.81 L331.5,133.02 L332.0,132.23 L332.5,131.45 L333.0,130.68 L333.5,129.91 L334.0,129.14 L334.5,128.38 L335.0,127.62 L335.5,126.86 L336.0,126.10 L336.5,125.35 L337.0,124.60 L337.5,123.86 L338.0,123.12 L338.5,122.39 L339.0,121.66 L339.5,120.94 L340.0,120.23 L340.5,119.52 L341.0,118.82 L341.5,118.13 L342.0,117.44 L342.5,116.76 L343.0,116.08 L343.5,115.41 L344.0,114.75 L344.5,114.09 L345.0,113.44 L345.5,112.80 L346.0,112.16 L346.5,111.54 L347.0,110.91 L347.5,110.30 L348.0,109.69 L348.5,109.09 L349.0,108.50 L349.5,107.91 L350.0,107.33 L350.5,106.76 L351.0,106.20 L351.5,105.64 L352.0,105.09 L352.5,104.55 L353.0,104.02 L353.5,103.50 L354.0,102.98 L354.5,102.47 L355.0,101.97 L355.5,101.48 L356.0,100.99 L356.5,100.52 L357.0,100.05 L357.5,99.59 L358.0,99.14 L358.5,98.70 L359.0,98.27 L359.5,97.84 L360.0,97.43 L360.5,97.02 L361.0,96.62 L361.5,96.23 L362.0,95.86 L362.5,95.49 L363.0,95.13 L363.5,94.77 L364.0,94.43 L364.5,94.10 L365.0,93.78 L365.5,93.46 L366.0,93.16 L366.5,92.87 L367.0,92.58 L367.5,92.31 L368.0,92.04 L368.5,91.79 L369.0,91.55 L369.5,91.31 L370.0,91.09 L370.5,90.88 L371.0,90.68 L371.5,90.48 L372.0,90.30 L372.5,90.13 L373.0,89.97 L373.5,89.82 L374.0,89.69 L374.5,89.56 L375.0,89.44 L375.5,89.34 L376.0,89.24 L376.5,89.16 L377.0,89.09 L377.5,89.03 L378.0,88.98 L378.5,88.94 L379.0,88.92 L379.5,88.90 L380.0,88.90 L380.5,88.91 L381.0,88.93 L381.5,88.96 L382.0,89.01 L382.5,89.06 L383.0,89.13 L383.5,89.21 L384.0,89.30 L384.5,89.40 L385.0,89.51 L385.5,89.64 L386.0,89.77 L386.5,89.92 L387.0,90.08 L387.5,90.24 L388.0,90.42 L388.5,90.61 L389.0,90.81 L389.5,91.02 L390.0,91.24 L390.5,91.47 L391.0,91.71 L391.5,91.96 L392.0,92.23 L392.5,92.50 L393.0,92.78 L393.5,93.07 L394.0,93.37 L394.5,93.69 L395.0,94.01 L395.5,94.34 L396.0,94.68 L396.5,95.03 L397.0,95.39 L397.5,95.76 L398.0,96.14 L398.5,96.53 L399.0,96.92 L399.5,97.33 L400.0,97.74 L400.5,98.17 L401.0,98.60 L401.5,99.04 L402.0,99.50 L402.5,99.96 L403.0,100.42 L403.5,100.90 L404.0,101.39 L404.5,101.88 L405.0,102.38 L405.5,102.89 L406.0,103.41 L406.5,103.94 L407.0,104.48 L407.5,105.02 L408.0,105.57 L408.5,106.13 L409.0,106.70 L409.5,107.27 L410.0,107.86 L410.5,108.45 L411.0,109.04 L411.5,109.65 L412.0,110.26 L412.5,110.88 L413.0,111.51 L413.5,112.14 L414.0,112.79 L414.5,113.43 L415.0,114.09 L415.5,114.75 L416.0,115.42 L416.5,116.10 L417.0,116.78 L417.5,117.47 L418.0,118.17 L418.5,118.87 L419.0,119.58 L419.5,120.30 L420.0,121.02 L420.5,121.75 L421.0,122.48 L421.5,123.22 L422.0,123.97 L422.5,124.72 L423.0,125.48 L423.5,126.24 L424.0,127.01 L424.5,127.79 L425.0,128.57 L425.5,129.34 L426.0,130.12 L426.5,130.90 L427.0,131.69 L427.5,132.48 L428.0,133.28 L428.5,134.09 L429.0,134.90 L429.5,135.71 L430.0,136.53 L430.5,137.35 L431.0,138.18 L431.5,139.01 L432.0,139.85 L432.5,140.69 L433.0,141.54 L433.5,142.39 L434.0,143.25 L434.5,144.11 L435.0,144.97 L435.5,145.84 L436.0,146.71 L436.5,147.59 L437.0,148.47 L437.5,149.35 L438.0,150.24 L438.5,151.13 L439.0,152.03 L439.5,152.93 L440.0,153.83 L440.5,154.74 L441.0,155.65 L441.5,156.56 L442.0,157.47 L442.5,158.39 L443.0,159.32 L443.5,160.24 L444.0,161.17 L444.5,162.10 L445.0,163.04 L445.5,163.97 L446.0,164.91 L446.5,165.85 L447.0,166.80 L447.5,167.74 L448.0,168.69 L448.5,169.65 L449.0,170.60 L449.5,171.56 L450.0,172.52 L450.5,173.48 L451.0,174.44 L451.5,175.40 L452.0,176.37 L452.5,177.34 L453.0,178.31 L453.5,179.28 L454.0,180.25 L454.5,181.23 L455.0,182.20 L455.5,183.19 L456.0,184.19 L456.5,185.18 L457.0,186.18 L457.5,187.17 L458.0,188.17 L458.5,189.17 L459.0,190.17 L459.5,191.17 L460.0,192.17 L460.5,193.17 L461.0,194.18 L461.5,195.18 L462.0,196.18 L462.5,197.19 L463.0,198.19 L463.5,199.19 L464.0,200.20 L464.5,201.20 L465.0,202.21 L465.5,203.21 L466.0,204.22 L466.5,205.22 L467.0,206.23 L467.5,207.23 L468.0,208.23 L468.5,209.24 L469.0,210.24 L469.5,211.24 L470.0,212.24 L470.5,213.24 L471.0,214.24 L471.5,215.24 L472.0,216.24 L472.5,217.24 L473.0,218.23 L473.5,219.23 L474.0,220.22 L474.5,221.21 L475.0,222.21 L475.5,223.20 L476.0,224.18 L476.5,225.17 L477.0,226.16 L477.5,227.14 L478.0,228.12 L478.5,229.10 L479.0,230.08 L479.5,231.05" fill="none" stroke="#d2ae6e" stroke-width="1.1" clip-path="url(#rc)"/>
<path d="M286.0,210.56 L286.5,209.85 L287.0,209.14 L287.5,208.42 L288.0,207.70 L288.5,206.97 L289.0,206.23 L289.5,205.49 L290.0,204.74 L290.5,203.99 L291.0,203.23 L291.5,202.46 L292.0,201.69 L292.5,200.92 L293.0,200.14 L293.5,199.35 L294.0,198.56 L294.5,197.77 L295.0,196.97 L295.5,196.17 L296.0,195.36 L296.5,194.55 L297.0,193.73 L297.5,192.91 L298.0,192.09 L298.5,191.26 L299.0,190.43 L299.5,189.60 L300.0,188.76 L300.5,187.92 L301.0,187.08 L301.5,186.23 L302.0,185.38 L302.5,184.53 L303.0,183.68 L303.5,182.82 L304.0,181.96 L304.5,181.10 L305.0,180.23 L305.5,179.38 L306.0,178.53 L306.5,177.68 L307.0,176.82 L307.5,175.96 L308.0,175.10 L308.5,174.24 L309.0,173.38 L309.5,172.52 L310.0,171.66 L310.5,170.79 L311.0,169.93 L311.5,169.06 L312.0,168.20 L312.5,167.33 L313.0,166.47 L313.5,165.60 L314.0,164.74 L314.5,163.87 L315.0,163.01 L315.5,162.14 L316.0,161.28 L316.5,160.42 L317.0,159.55 L317.5,158.69 L318.0,157.83 L318.5,156.97 L319.0,156.12 L319.5,155.26 L320.0,154.41 L320.5,153.55 L321.0,152.70 L321.5,151.85 L322.0,151.01 L322.5,150.16 L323.0,149.32 L323.5,148.48 L324.0,147.64 L324.5,146.81 L325.0,145.98 L325.5,145.15 L326.0,144.32 L326.5,143.50 L327.0,142.68 L327.5,141.87 L328.0,141.06 L328.5,140.25 L329.0,139.44 L329.5,138.64 L330.0,137.85 L330.5,137.05 L331.0,136.26 L331.5,135.48 L332.0,134.70 L332.5,133.93 L333.0,133.16 L333.5,132.39 L334.0,131.63 L334.5,130.88 L335.0,130.13 L335.5,129.37 L336.0,128.62 L336.5,127.87 L337.0,127.13 L337.5,126.39 L338.0,125.66 L338.5,124.93 L339.0,124.21 L339.5,123.50 L340.0,122.79 L340.5,122.09 L341.0,121.40 L341.5,120.71 L342.0,120.02 L342.5,119.35 L343.0,118.67 L343.5,118.01 L344.0,117.35 L344.5,116.70 L345.0,116.06 L345.5,115.42 L346.0,114.79 L346.5,114.16 L347.0,113.55 L347.5,112.94 L348.0,112.33 L348.5,111.74 L349.0,111.15 L349.5,110.57 L350.0,109.99 L350.5,109.42 L351.0,108.87 L351.5,108.31 L352.0,107.77 L352.5,107.23 L353.0,106.70 L353.5,106.18 L354.0,105.67 L354.5,105.17 L355.0,104.67 L355.5,104.18 L356.0,103.70 L356.5,103.23 L357.0,102.76 L357.5,102.31 L358.0,101.86 L358.5,101.42 L359.0,100.99 L359.5,100.57 L360.0,100.16 L360.5,99.76 L361.0,99.36 L361.5,98.98 L362.0,98.60 L362.5,98.24 L363.0,97.88 L363.5,97.53 L364.0,97.19 L364.5,96.86 L365.0,96.54 L365.5,96.23 L366.0,95.93 L366.5,95.64 L367.0,95.35 L367.5,95.08 L368.0,94.82 L368.5,94.57 L369.0,94.33 L369.5,94.10 L370.0,93.87 L370.5,93.66 L371.0,93.46 L371.5,93.27 L372.0,93.09 L372.5,92.92 L373.0,92.76 L373.5,92.62 L374.0,92.48 L374.5,92.35 L375.0,92.24 L375.5,92.13 L376.0,92.04 L376.5,91.96 L377.0,91.89 L377.5,91.83 L378.0,91.78 L378.5,91.74 L379.0,91.72 L379.5,91.70 L380.0,91.70 L380.5,91.71 L381.0,91.73 L381.5,91.76 L382.0,91.81 L382.5,91.86 L383.0,91.93 L383.5,92.01 L384.0,92.10 L384.5,92.20 L385.0,92.31 L385.5,92.43 L386.0,92.57 L386.5,92.71 L387.0,92.87 L387.5,93.03 L388.0,93.21 L388.5,93.40 L389.0,93.60 L389.5,93.80 L390.0,94.02 L390.5,94.25 L391.0,94.49 L391.5,94.74 L392.0,95.00 L392.5,95.27 L393.0,95.55 L393.5,95.84 L394.0,96.14 L394.5,96.45 L395.0,96.77 L395.5,97.10 L396.0,97.43 L396.5,97.78 L397.0,98.14 L397.5,98.51 L398.0,98.88 L398.5,99.27 L399.0,99.66 L399.5,100.06 L400.0,100.48 L400.5,100.90 L401.0,101.33 L401.5,101.77 L402.0,102.22 L402.5,102.67 L403.0,103.14 L403.5,103.61 L404.0,104.09 L404.5,104.58 L405.0,105.08 L405.5,105.59 L406.0,106.10 L406.5,106.63 L407.0,107.16 L407.5,107.70 L408.0,108.24 L408.5,108.80 L409.0,109.36 L409.5,109.93 L410.0,110.51 L410.5,111.10 L411.0,111.69 L411.5,112.29 L412.0,112.90 L412.5,113.51 L413.0,114.14 L413.5,114.77 L414.0,115.40 L414.5,116.05 L415.0,116.70 L415.5,117.36 L416.0,118.02 L416.5,118.69 L417.0,119.37 L417.5,120.05 L418.0,120.75 L418.5,121.44 L419.0,122.15 L419.5,122.86 L420.0,123.57 L420.5,124.30 L421.0,125.03 L421.5,125.76 L422.0,126.50 L422.5,127.25 L423.0,128.00 L423.5,128.76 L424.0,129.52 L424.5,130.29 L425.0,131.07 L425.5,131.83 L426.0,132.61 L426.5,133.38 L427.0,134.16 L427.5,134.95 L428.0,135.75 L428.5,136.54 L429.0,137.35 L429.5,138.15 L430.0,138.97 L430.5,139.78 L431.0,140.61 L431.5,141.43 L432.0,142.26 L432.5,143.10 L433.0,143.94 L433.5,144.79 L434.0,145.63 L434.5,146.49 L435.0,147.35 L435.5,148.21 L436.0,149.07 L436.5,149.94 L437.0,150.82 L437.5,151.69 L438.0,152.58 L438.5,153.46 L439.0,154.35 L439.5,155.24 L440.0,156.14 L440.5,157.04 L441.0,157.94 L441.5,158.84 L442.0,159.75 L442.5,160.67 L443.0,161.58 L443.5,162.50 L444.0,163.42 L444.5,164.34 L445.0,165.27 L445.5,166.20 L446.0,167.13 L446.5,168.07 L447.0,169.01 L447.5,169.95 L448.0,170.89 L448.5,171.83 L449.0,172.78 L449.5,173.73 L450.0,174.68 L450.5,175.63 L451.0,176.59 L451.5,177.54 L452.0,178.50 L452.5,179.46 L453.0,180.43 L453.5,181.39 L454.0,182.36 L454.5,183.32 L455.0,184.29 L455.5,185.28 L456.0,186.26 L456.5,187.25 L457.0,188.24 L457.5,189.23 L458.0,190.22 L458.5,191.21 L459.0,192.20 L459.5,193.19 L460.0,194.19 L460.5,195.18 L461.0,196.17 L461.5,197.17 L462.0,198.17 L462.5,199.16 L463.0,200.16 L463.5,201.15 L464.0,202.15 L464.5,203.15 L465.0,204.15 L465.5,205.14 L466.0,206.14 L466.5,207.14 L467.0,208.13 L467.5,209.13 L468.0,210.13 L468.5,211.12 L469.0,212.12 L469.5,213.11 L470.0,214.10 L470.5,215.10 L471.0,216.09 L471.5,217.08 L472.0,218.07 L472.5,219.06 L473.0,220.05 L473.5,221.04 L474.0,222.02 L474.5,223.01 L475.0,223.99 L475.5,224.97 L476.0,225.95 L476.5,226.93 L477.0,227.91 L477.5,228.89 L478.0,229.86 L478.5,230.83 L479.0,231.80 L479.5,232.77" fill="none" stroke="#46a060" stroke-width="1.1" clip-path="url(#rc)"/>
<path d="M286.0,214.33 L286.5,213.64 L287.0,212.94 L287.5,212.23 L288.0,211.52 L288.5,210.80 L289.0,210.07 L289.5,209.34 L290.0,208.61 L290.5,207.87 L291.0,207.12 L291.5,206.36 L292.0,205.61 L292.5,204.84 L293.0,204.08 L293.5,203.30 L294.0,202.53 L294.5,201.74 L295.0,200.96 L295.5,200.17 L296.0,199.37 L296.5,198.57 L297.0,197.77 L297.5,196.96 L298.0,196.15 L298.5,195.34 L299.0,194.52 L299.5,193.70 L300.0,192.87 L300.5,192.05 L301.0,191.22 L301.5,190.38 L302.0,189.55 L302.5,188.71 L303.0,187.87 L303.5,187.02 L304.0,186.18 L304.5,185.33 L305.0,184.48 L305.5,183.64 L306.0,182.80 L306.5,181.96 L307.0,181.12 L307.5,180.27 L308.0,179.43 L308.5,178.58 L309.0,177.73 L309.5,176.88 L310.0,176.03 L310.5,175.18 L311.0,174.33 L311.5,173.48 L312.0,172.63 L312.5,171.77 L313.0,170.92 L313.5,170.07 L314.0,169.22 L314.5,168.37 L315.0,167.51 L315.5,166.66 L316.0,165.81 L316.5,164.96 L317.0,164.11 L317.5,163.27 L318.0,162.42 L318.5,161.57 L319.0,160.73 L319.5,159.89 L320.0,159.05 L320.5,158.21 L321.0,157.37 L321.5,156.53 L322.0,155.70 L322.5,154.87 L323.0,154.04 L323.5,153.21 L324.0,152.39 L324.5,151.57 L325.0,150.75 L325.5,149.93 L326.0,149.12 L326.5,148.31 L327.0,147.50 L327.5,146.70 L328.0,145.90 L328.5,145.10 L329.0,144.31 L329.5,143.52 L330.0,142.74 L330.5,141.96 L331.0,141.18 L331.5,140.41 L332.0,139.64 L332.5,138.88 L333.0,138.12 L333.5,137.37 L334.0,136.62 L334.5,135.88 L335.0,135.14 L335.5,134.39 L336.0,133.65 L336.5,132.92 L337.0,132.18 L337.5,131.46 L338.0,130.74 L338.5,130.02 L339.0,129.32 L339.5,128.61 L340.0,127.92 L340.5,127.23 L341.0,126.54 L341.5,125.86 L342.0,125.19 L342.5,124.52 L343.0,123.86 L343.5,123.21 L344.0,122.56 L344.5,121.92 L345.0,121.28 L345.5,120.65 L346.0,120.03 L346.5,119.42 L347.0,118.81 L347.5,118.21 L348.0,117.62 L348.5,117.03 L349.0,116.45 L349.5,115.88 L350.0,115.31 L350.5,114.75 L351.0,114.20 L351.5,113.66 L352.0,113.12 L352.5,112.60 L353.0,112.07 L353.5,111.56 L354.0,111.06 L354.5,110.56 L355.0,110.07 L355.5,109.59 L356.0,109.12 L356.5,108.65 L357.0,108.20 L357.5,107.75 L358.0,107.31 L358.5,106.88 L359.0,106.45 L359.5,106.04 L360.0,105.63 L360.5,105.24 L361.0,104.85 L361.5,104.47 L362.0,104.10 L362.5,103.74 L363.0,103.38 L363.5,103.04 L364.0,102.71 L364.5,102.38 L365.0,102.07 L365.5,101.76 L366.0,101.46 L366.5,101.18 L367.0,100.90 L367.5,100.63 L368.0,100.37 L368.5,100.13 L369.0,99.89 L369.5,99.66 L370.0,99.44 L370.5,99.23 L371.0,99.04 L371.5,98.85 L372.0,98.67 L372.5,98.50 L373.0,98.35 L373.5,98.20 L374.0,98.07 L374.5,97.94 L375.0,97.83 L375.5,97.73 L376.0,97.63 L376.5,97.55 L377.0,97.48 L377.5,97.42 L378.0,97.38 L378.5,97.34 L379.0,97.32 L379.5,97.30 L380.0,97.30 L380.5,97.31 L381.0,97.33 L381.5,97.36 L382.0,97.41 L382.5,97.46 L383.0,97.53 L383.5,97.60 L384.0,97.69 L384.5,97.79 L385.0,97.90 L385.5,98.02 L386.0,98.15 L386.5,98.30 L387.0,98.45 L387.5,98.61 L388.0,98.79 L388.5,98.97 L389.0,99.17 L389.5,99.37 L390.0,99.59 L390.5,99.81 L391.0,100.05 L391.5,100.29 L392.0,100.55 L392.5,100.82 L393.0,101.09 L393.5,101.38 L394.0,101.67 L394.5,101.98 L395.0,102.29 L395.5,102.61 L396.0,102.95 L396.5,103.29 L397.0,103.64 L397.5,104.00 L398.0,104.37 L398.5,104.75 L399.0,105.14 L399.5,105.54 L400.0,105.94 L400.5,106.36 L401.0,106.78 L401.5,107.21 L402.0,107.65 L402.5,108.10 L403.0,108.56 L403.5,109.03 L404.0,109.50 L404.5,109.99 L405.0,110.48 L405.5,110.98 L406.0,111.48 L406.5,112.00 L407.0,112.52 L407.5,113.05 L408.0,113.59 L408.5,114.14 L409.0,114.69 L409.5,115.25 L410.0,115.82 L410.5,116.40 L411.0,116.98 L411.5,117.58 L412.0,118.17 L412.5,118.78 L413.0,119.39 L413.5,120.01 L414.0,120.64 L414.5,121.27 L415.0,121.92 L415.5,122.56 L416.0,123.22 L416.5,123.88 L417.0,124.55 L417.5,125.22 L418.0,125.90 L418.5,126.59 L419.0,127.28 L419.5,127.98 L420.0,128.68 L420.5,129.40 L421.0,130.11 L421.5,130.84 L422.0,131.57 L422.5,132.30 L423.0,133.04 L423.5,133.79 L424.0,134.54 L424.5,135.30 L425.0,136.06 L425.5,136.82 L426.0,137.58 L426.5,138.34 L427.0,139.11 L427.5,139.89 L428.0,140.67 L428.5,141.46 L429.0,142.25 L429.5,143.04 L430.0,143.84 L430.5,144.65 L431.0,145.46 L431.5,146.27 L432.0,147.09 L432.5,147.91 L433.0,148.74 L433.5,149.57 L434.0,150.41 L434.5,151.25 L435.0,152.09 L435.5,152.94 L436.0,153.79 L436.5,154.65 L437.0,155.51 L437.5,156.37 L438.0,157.24 L438.5,158.11 L439.0,158.99 L439.5,159.87 L440.0,160.75 L440.5,161.63 L441.0,162.52 L441.5,163.41 L442.0,164.31 L442.5,165.21 L443.0,166.11 L443.5,167.01 L444.0,167.92 L444.5,168.83 L445.0,169.74 L445.5,170.66 L446.0,171.58 L446.5,172.50 L447.0,173.42 L447.5,174.35 L448.0,175.27 L448.5,176.20 L449.0,177.14 L449.5,178.07 L450.0,179.01 L450.5,179.95 L451.0,180.89 L451.5,181.83 L452.0,182.77 L452.5,183.72 L453.0,184.67 L453.5,185.62 L454.0,186.57 L454.5,187.52 L455.0,188.47 L455.5,189.44 L456.0,190.41 L456.5,191.38 L457.0,192.36 L457.5,193.33 L458.0,194.31 L458.5,195.28 L459.0,196.26 L459.5,197.24 L460.0,198.21 L460.5,199.19 L461.0,200.17 L461.5,201.15 L462.0,202.13 L462.5,203.11 L463.0,204.10 L463.5,205.08 L464.0,206.06 L464.5,207.04 L465.0,208.02 L465.5,209.00 L466.0,209.99 L466.5,210.97 L467.0,211.95 L467.5,212.93 L468.0,213.91 L468.5,214.89 L469.0,215.87 L469.5,216.85 L470.0,217.83 L470.5,218.81 L471.0,219.78 L471.5,220.76 L472.0,221.73 L472.5,222.71 L473.0,223.68 L473.5,224.65 L474.0,225.62 L474.5,226.59 L475.0,227.56 L475.5,228.53 L476.0,229.50 L476.5,230.46 L477.0,231.42 L477.5,232.38 L478.0,233.34 L478.5,234.30 L479.0,235.26 L479.5,236.21" fill="none" stroke="#34347e" stroke-width="1.1" clip-path="url(#rc)"/>
<path d="M286.0,215.08 L286.5,214.38 L287.0,213.68 L287.5,212.98 L288.0,212.27 L288.5,211.55 L289.0,210.83 L289.5,210.10 L290.0,209.37 L290.5,208.63 L291.0,207.88 L291.5,207.13 L292.0,206.38 L292.5,205.62 L293.0,204.85 L293.5,204.08 L294.0,203.30 L294.5,202.52 L295.0,201.74 L295.5,200.95 L296.0,200.16 L296.5,199.36 L297.0,198.56 L297.5,197.76 L298.0,196.95 L298.5,196.14 L299.0,195.32 L299.5,194.50 L300.0,193.68 L300.5,192.86 L301.0,192.03 L301.5,191.20 L302.0,190.36 L302.5,189.53 L303.0,188.69 L303.5,187.85 L304.0,187.00 L304.5,186.16 L305.0,185.31 L305.5,184.48 L306.0,183.64 L306.5,182.80 L307.0,181.96 L307.5,181.12 L308.0,180.27 L308.5,179.43 L309.0,178.58 L309.5,177.74 L310.0,176.89 L310.5,176.04 L311.0,175.19 L311.5,174.35 L312.0,173.50 L312.5,172.65 L313.0,171.80 L313.5,170.95 L314.0,170.10 L314.5,169.25 L315.0,168.40 L315.5,167.55 L316.0,166.70 L316.5,165.86 L317.0,165.01 L317.5,164.16 L318.0,163.32 L318.5,162.48 L319.0,161.64 L319.5,160.80 L320.0,159.96 L320.5,159.12 L321.0,158.28 L321.5,157.45 L322.0,156.62 L322.5,155.79 L323.0,154.96 L323.5,154.14 L324.0,153.32 L324.5,152.50 L325.0,151.68 L325.5,150.87 L326.0,150.06 L326.5,149.25 L327.0,148.45 L327.5,147.65 L328.0,146.85 L328.5,146.06 L329.0,145.27 L329.5,144.48 L330.0,143.70 L330.5,142.92 L331.0,142.15 L331.5,141.38 L332.0,140.61 L332.5,139.85 L333.0,139.10 L333.5,138.35 L334.0,137.60 L334.5,136.86 L335.0,136.12 L335.5,135.38 L336.0,134.64 L336.5,133.91 L337.0,133.18 L337.5,132.45 L338.0,131.74 L338.5,131.02 L339.0,130.32 L339.5,129.62 L340.0,128.92 L340.5,128.23 L341.0,127.55 L341.5,126.87 L342.0,126.20 L342.5,125.54 L343.0,124.88 L343.5,124.23 L344.0,123.58 L344.5,122.94 L345.0,122.31 L345.5,121.68 L346.0,121.06 L346.5,120.45 L347.0,119.85 L347.5,119.25 L348.0,118.65 L348.5,118.07 L349.0,117.49 L349.5,116.92 L350.0,116.36 L350.5,115.80 L351.0,115.25 L351.5,114.71 L352.0,114.17 L352.5,113.65 L353.0,113.13 L353.5,112.62 L354.0,112.11 L354.5,111.62 L355.0,111.13 L355.5,110.65 L356.0,110.18 L356.5,109.72 L357.0,109.26 L357.5,108.81 L358.0,108.38 L358.5,107.95 L359.0,107.52 L359.5,107.11 L360.0,106.71 L360.5,106.31 L361.0,105.92 L361.5,105.55 L362.0,105.18 L362.5,104.82 L363.0,104.46 L363.5,104.12 L364.0,103.79 L364.5,103.47 L365.0,103.15 L365.5,102.85 L366.0,102.55 L366.5,102.26 L367.0,101.99 L367.5,101.72 L368.0,101.46 L368.5,101.22 L369.0,100.98 L369.5,100.75 L370.0,100.53 L370.5,100.33 L371.0,100.13 L371.5,99.94 L372.0,99.77 L372.5,99.60 L373.0,99.44 L373.5,99.30 L374.0,99.16 L374.5,99.04 L375.0,98.93 L375.5,98.82 L376.0,98.73 L376.5,98.65 L377.0,98.58 L377.5,98.52 L378.0,98.48 L378.5,98.44 L379.0,98.42 L379.5,98.40 L380.0,98.40 L380.5,98.41 L381.0,98.43 L381.5,98.46 L382.0,98.51 L382.5,98.56 L383.0,98.63 L383.5,98.70 L384.0,98.79 L384.5,98.89 L385.0,99.00 L385.5,99.12 L386.0,99.25 L386.5,99.39 L387.0,99.55 L387.5,99.71 L388.0,99.88 L388.5,100.07 L389.0,100.26 L389.5,100.47 L390.0,100.68 L390.5,100.90 L391.0,101.14 L391.5,101.39 L392.0,101.64 L392.5,101.90 L393.0,102.18 L393.5,102.46 L394.0,102.76 L394.5,103.06 L395.0,103.37 L395.5,103.70 L396.0,104.03 L396.5,104.37 L397.0,104.72 L397.5,105.08 L398.0,105.45 L398.5,105.83 L399.0,106.22 L399.5,106.61 L400.0,107.02 L400.5,107.43 L401.0,107.85 L401.5,108.28 L402.0,108.72 L402.5,109.17 L403.0,109.63 L403.5,110.09 L404.0,110.56 L404.5,111.05 L405.0,111.54 L405.5,112.03 L406.0,112.54 L406.5,113.05 L407.0,113.57 L407.5,114.10 L408.0,114.64 L408.5,115.19 L409.0,115.74 L409.5,116.30 L410.0,116.87 L410.5,117.44 L411.0,118.02 L411.5,118.61 L412.0,119.21 L412.5,119.81 L413.0,120.43 L413.5,121.04 L414.0,121.67 L414.5,122.30 L415.0,122.94 L415.5,123.59 L416.0,124.24 L416.5,124.90 L417.0,125.56 L417.5,126.23 L418.0,126.91 L418.5,127.60 L419.0,128.29 L419.5,128.99 L420.0,129.69 L420.5,130.40 L421.0,131.11 L421.5,131.84 L422.0,132.56 L422.5,133.30 L423.0,134.03 L423.5,134.78 L424.0,135.53 L424.5,136.28 L425.0,137.05 L425.5,137.80 L426.0,138.56 L426.5,139.32 L427.0,140.09 L427.5,140.86 L428.0,141.64 L428.5,142.42 L429.0,143.21 L429.5,144.00 L430.0,144.80 L430.5,145.60 L431.0,146.41 L431.5,147.22 L432.0,148.04 L432.5,148.86 L433.0,149.68 L433.5,150.51 L434.0,151.35 L434.5,152.18 L435.0,153.02 L435.5,153.87 L436.0,154.72 L436.5,155.57 L437.0,156.43 L437.5,157.29 L438.0,158.16 L438.5,159.03 L439.0,159.90 L439.5,160.78 L440.0,161.65 L440.5,162.54 L441.0,163.42 L441.5,164.31 L442.0,165.20 L442.5,166.10 L443.0,167.00 L443.5,167.90 L444.0,168.80 L444.5,169.71 L445.0,170.62 L445.5,171.53 L446.0,172.45 L446.5,173.37 L447.0,174.29 L447.5,175.21 L448.0,176.13 L448.5,177.06 L449.0,177.99 L449.5,178.92 L450.0,179.86 L450.5,180.79 L451.0,181.73 L451.5,182.67 L452.0,183.61 L452.5,184.55 L453.0,185.50 L453.5,186.45 L454.0,187.39 L454.5,188.34 L455.0,189.29 L455.5,190.26 L456.0,191.23 L456.5,192.20 L457.0,193.17 L457.5,194.14 L458.0,195.11 L458.5,196.08 L459.0,197.06 L459.5,198.03 L460.0,199.01 L460.5,199.98 L461.0,200.96 L461.5,201.93 L462.0,202.91 L462.5,203.89 L463.0,204.87 L463.5,205.85 L464.0,206.83 L464.5,207.80 L465.0,208.78 L465.5,209.76 L466.0,210.74 L466.5,211.72 L467.0,212.70 L467.5,213.68 L468.0,214.65 L468.5,215.63 L469.0,216.61 L469.5,217.58 L470.0,218.56 L470.5,219.53 L471.0,220.51 L471.5,221.48 L472.0,222.45 L472.5,223.42 L473.0,224.39 L473.5,225.36 L474.0,226.33 L474.5,227.30 L475.0,228.26 L475.5,229.23 L476.0,230.19 L476.5,231.15 L477.0,232.11 L477.5,233.07 L478.0,234.03 L478.5,234.98 L479.0,235.93 L479.5,236.88" fill="none" stroke="#5e2272" stroke-width="1.1" clip-path="url(#rc)"/>
<path d="M286.0,217.64 L286.5,216.95 L287.0,216.26 L287.5,215.57 L288.0,214.86 L288.5,214.15 L289.0,213.44 L289.5,212.72 L290.0,211.99 L290.5,211.26 L291.0,210.52 L291.5,209.78 L292.0,209.03 L292.5,208.28 L293.0,207.52 L293.5,206.76 L294.0,205.99 L294.5,205.22 L295.0,204.44 L295.5,203.66 L296.0,202.88 L296.5,202.09 L297.0,201.30 L297.5,200.50 L298.0,199.70 L298.5,198.90 L299.0,198.09 L299.5,197.28 L300.0,196.47 L300.5,195.66 L301.0,194.84 L301.5,194.01 L302.0,193.19 L302.5,192.36 L303.0,191.53 L303.5,190.70 L304.0,189.87 L304.5,189.03 L305.0,188.19 L305.5,187.36 L306.0,186.53 L306.5,185.70 L307.0,184.87 L307.5,184.04 L308.0,183.21 L308.5,182.37 L309.0,181.53 L309.5,180.70 L310.0,179.86 L310.5,179.02 L311.0,178.18 L311.5,177.34 L312.0,176.50 L312.5,175.66 L313.0,174.82 L313.5,173.98 L314.0,173.14 L314.5,172.30 L315.0,171.46 L315.5,170.62 L316.0,169.78 L316.5,168.94 L317.0,168.10 L317.5,167.27 L318.0,166.43 L318.5,165.60 L319.0,164.77 L319.5,163.93 L320.0,163.10 L320.5,162.28 L321.0,161.45 L321.5,160.63 L322.0,159.80 L322.5,158.98 L323.0,158.16 L323.5,157.35 L324.0,156.54 L324.5,155.73 L325.0,154.92 L325.5,154.11 L326.0,153.31 L326.5,152.51 L327.0,151.72 L327.5,150.93 L328.0,150.14 L328.5,149.35 L329.0,148.57 L329.5,147.79 L330.0,147.02 L330.5,146.25 L331.0,145.48 L331.5,144.72 L332.0,143.97 L332.5,143.21 L333.0,142.47 L333.5,141.72 L334.0,140.99 L334.5,140.25 L335.0,139.52 L335.5,138.79 L336.0,138.06 L336.5,137.33 L337.0,136.61 L337.5,135.89 L338.0,135.18 L338.5,134.48 L339.0,133.78 L339.5,133.09 L340.0,132.40 L340.5,131.72 L341.0,131.04 L341.5,130.37 L342.0,129.71 L342.5,129.05 L343.0,128.40 L343.5,127.75 L344.0,127.11 L344.5,126.48 L345.0,125.86 L345.5,125.24 L346.0,124.62 L346.5,124.02 L347.0,123.42 L347.5,122.83 L348.0,122.24 L348.5,121.66 L349.0,121.09 L349.5,120.52 L350.0,119.97 L350.5,119.42 L351.0,118.87 L351.5,118.34 L352.0,117.81 L352.5,117.29 L353.0,116.77 L353.5,116.27 L354.0,115.77 L354.5,115.28 L355.0,114.80 L355.5,114.32 L356.0,113.86 L356.5,113.40 L357.0,112.95 L357.5,112.50 L358.0,112.07 L358.5,111.64 L359.0,111.23 L359.5,110.82 L360.0,110.42 L360.5,110.03 L361.0,109.64 L361.5,109.27 L362.0,108.90 L362.5,108.55 L363.0,108.20 L363.5,107.86 L364.0,107.53 L364.5,107.21 L365.0,106.90 L365.5,106.60 L366.0,106.31 L366.5,106.02 L367.0,105.75 L367.5,105.49 L368.0,105.23 L368.5,104.99 L369.0,104.75 L369.5,104.53 L370.0,104.31 L370.5,104.11 L371.0,103.91 L371.5,103.73 L372.0,103.55 L372.5,103.39 L373.0,103.23 L373.5,103.09 L374.0,102.96 L374.5,102.83 L375.0,102.72 L375.5,102.62 L376.0,102.53 L376.5,102.45 L377.0,102.38 L377.5,102.32 L378.0,102.28 L378.5,102.24 L379.0,102.22 L379.5,102.20 L380.0,102.20 L380.5,102.21 L381.0,102.23 L381.5,102.26 L382.0,102.30 L382.5,102.36 L383.0,102.42 L383.5,102.50 L384.0,102.59 L384.5,102.68 L385.0,102.79 L385.5,102.91 L386.0,103.04 L386.5,103.18 L387.0,103.33 L387.5,103.49 L388.0,103.67 L388.5,103.85 L389.0,104.04 L389.5,104.24 L390.0,104.46 L390.5,104.68 L391.0,104.91 L391.5,105.15 L392.0,105.41 L392.5,105.67 L393.0,105.94 L393.5,106.22 L394.0,106.51 L394.5,106.81 L395.0,107.12 L395.5,107.44 L396.0,107.77 L396.5,108.11 L397.0,108.45 L397.5,108.81 L398.0,109.18 L398.5,109.55 L399.0,109.93 L399.5,110.32 L400.0,110.72 L400.5,111.13 L401.0,111.55 L401.5,111.98 L402.0,112.41 L402.5,112.86 L403.0,113.31 L403.5,113.77 L404.0,114.24 L404.5,114.71 L405.0,115.20 L405.5,115.69 L406.0,116.19 L406.5,116.70 L407.0,117.21 L407.5,117.74 L408.0,118.27 L408.5,118.81 L409.0,119.35 L409.5,119.91 L410.0,120.47 L410.5,121.04 L411.0,121.62 L411.5,122.20 L412.0,122.79 L412.5,123.39 L413.0,123.99 L413.5,124.60 L414.0,125.22 L414.5,125.85 L415.0,126.48 L415.5,127.12 L416.0,127.76 L416.5,128.42 L417.0,129.07 L417.5,129.74 L418.0,130.41 L418.5,131.09 L419.0,131.77 L419.5,132.46 L420.0,133.16 L420.5,133.86 L421.0,134.57 L421.5,135.28 L422.0,136.00 L422.5,136.73 L423.0,137.46 L423.5,138.19 L424.0,138.94 L424.5,139.68 L425.0,140.44 L425.5,141.18 L426.0,141.93 L426.5,142.68 L427.0,143.44 L427.5,144.21 L428.0,144.98 L428.5,145.75 L429.0,146.53 L429.5,147.32 L430.0,148.11 L430.5,148.90 L431.0,149.70 L431.5,150.50 L432.0,151.31 L432.5,152.12 L433.0,152.94 L433.5,153.76 L434.0,154.58 L434.5,155.41 L435.0,156.25 L435.5,157.08 L436.0,157.92 L436.5,158.77 L437.0,159.62 L437.5,160.47 L438.0,161.33 L438.5,162.18 L439.0,163.05 L439.5,163.91 L440.0,164.78 L440.5,165.66 L441.0,166.53 L441.5,167.41 L442.0,168.30 L442.5,169.18 L443.0,170.07 L443.5,170.96 L444.0,171.86 L444.5,172.76 L445.0,173.66 L445.5,174.56 L446.0,175.46 L446.5,176.37 L447.0,177.28 L447.5,178.20 L448.0,179.11 L448.5,180.03 L449.0,180.95 L449.5,181.87 L450.0,182.79 L450.5,183.72 L451.0,184.65 L451.5,185.58 L452.0,186.51 L452.5,187.44 L453.0,188.38 L453.5,189.31 L454.0,190.25 L454.5,191.19 L455.0,192.13 L455.5,193.09 L456.0,194.04 L456.5,195.00 L457.0,195.96 L457.5,196.92 L458.0,197.88 L458.5,198.85 L459.0,199.81 L459.5,200.77 L460.0,201.74 L460.5,202.70 L461.0,203.67 L461.5,204.64 L462.0,205.60 L462.5,206.57 L463.0,207.54 L463.5,208.51 L464.0,209.48 L464.5,210.44 L465.0,211.41 L465.5,212.38 L466.0,213.35 L466.5,214.32 L467.0,215.29 L467.5,216.25 L468.0,217.22 L468.5,218.19 L469.0,219.15 L469.5,220.12 L470.0,221.09 L470.5,222.05 L471.0,223.01 L471.5,223.98 L472.0,224.94 L472.5,225.90 L473.0,226.86 L473.5,227.82 L474.0,228.78 L474.5,229.73 L475.0,230.69 L475.5,231.64 L476.0,232.59 L476.5,233.55 L477.0,234.49 L477.5,235.44 L478.0,236.39 L478.5,237.33 L479.0,238.28 L479.5,239.22" fill="none" stroke="#3c3c3c" stroke-width="1.1" clip-path="url(#rc)"/>
<rect x="461.2" y="31.0" width="66.8" height="89.9" fill="#fff" stroke="#808080" stroke-width="0.9"/>
<line x1="463" y1="36.30" x2="481.6" y2="36.30" stroke="#b06262" stroke-width="1.1"/>
<text x="483.9" y="39.50" font-size="8.4" class="t3">0 V/mm</text>
<line x1="463" y1="46.14" x2="481.6" y2="46.14" stroke="#b880d8" stroke-width="1.1"/>
<text x="483.9" y="49.34" font-size="8.4" class="t3">200 V/mm</text>
<line x1="463" y1="55.98" x2="481.6" y2="55.98" stroke="#46a060" stroke-width="1.1"/>
<text x="483.9" y="59.18" font-size="8.4" class="t3">400 V/mm</text>
<line x1="463" y1="65.82" x2="481.6" y2="65.82" stroke="#d2ae6e" stroke-width="1.1"/>
<text x="483.9" y="69.02" font-size="8.4" class="t3">600 V/mm</text>
<line x1="463" y1="75.66" x2="481.6" y2="75.66" stroke="#e2dc80" stroke-width="1.1"/>
<text x="483.9" y="78.86" font-size="8.4" class="t3">800 V/mm</text>
<line x1="463" y1="85.50" x2="481.6" y2="85.50" stroke="#68d0c8" stroke-width="1.1"/>
<text x="483.9" y="88.70" font-size="8.4" class="t3">1000 V/mm</text>
<line x1="463" y1="95.34" x2="481.6" y2="95.34" stroke="#34347e" stroke-width="1.1"/>
<text x="483.9" y="98.54" font-size="8.4" class="t3">1200 V/mm</text>
<line x1="463" y1="105.18" x2="481.6" y2="105.18" stroke="#5e2272" stroke-width="1.1"/>
<text x="483.9" y="108.38" font-size="8.4" class="t3">1400 V/mm</text>
<line x1="463" y1="115.02" x2="481.6" y2="115.02" stroke="#3c3c3c" stroke-width="1.1"/>
<text x="483.9" y="118.22" font-size="8.4" class="t3">1600 V/mm</text>
<text transform="translate(6.6,29.7) scale(1.0,1)" font-size="12" class="t2">(a)</text>
<text transform="translate(252.6,29.7) scale(1.08,1)" font-size="12" class="t2">(b)</text>
<polygon points="150.3,39.9 183.5,7.899999999999999 234.5,7.899999999999999 234.5,107.30000000000001 201.3,139.3 150.3,139.3" fill="#fce7fc"/>
<polygon points="150.3,39.9 169.2,39.9 202.39999999999998,7.899999999999999 183.5,7.899999999999999" fill="#fdeefd"/>
<polygon points="201.3,39.9 234.5,7.899999999999999 234.5,107.30000000000001 201.3,139.3" fill="#fbe5fb"/>
<polygon points="183.0,39.9 216.2,7.899999999999999 216.2,107.30000000000001 183.0,139.3" fill="#694963"/>
<polygon points="201.3,39.9 216.2,7.899999999999999 216.2,107.30000000000001 201.3,139.3" fill="#000" fill-opacity="0.09" clip-path="url(#purp)"/>
<polygon points="169.2,39.9 183.0,39.9 216.2,7.899999999999999 202.39999999999998,7.899999999999999" fill="#5a5859"/>
<rect x="169.2" y="39.9" width="13.800000000000011" height="99.4" fill="#393539"/>
<line x1="169.2" y1="139.3" x2="202.39999999999998" y2="107.30000000000001" stroke="#7e6a7c" stroke-width="0.6"/>
<path d="M169.6,139.3 V39.9 L202.39999999999998,7.899999999999999 M169.2,39.9 H183.0 l33.2,-32.0 M169.2,138.9 H183.0" fill="none" stroke="#1e1a1e" stroke-width="1.1"/>
<path d="M201.70000000000002,39.9 V139.3" stroke="#b07cb0" stroke-width="1.3" clip-path="url(#purp)"/>
<line x1="215.39999999999998" y1="7.899999999999999" x2="215.39999999999998" y2="107.30000000000001" stroke="#3a2a3a" stroke-width="1.5"/>
<line x1="216.89999999999998" y1="8.899999999999999" x2="216.89999999999998" y2="107.30000000000001" stroke="#fff" stroke-width="1.2" stroke-opacity="0.8"/>
<path d="M169.2,39.9 H150.3 V139.3 H201.3 V39.9 H183.0 M150.3,39.9 l33.2,-32.0 H234.5 V107.30000000000001 L201.3,139.3 M201.3,39.9 l33.2,-32.0" fill="none" stroke="#e4b6e4" stroke-width="1.0"/>
<path d="M184.0,39.9 l33.2,-32.0 M184.0,39.9 V139.3 M201.3,39.9 l14.899999999999977,-14.361445783132506" fill="none" stroke="#c890c8" stroke-width="1.1"/>
<rect x="190.8" y="125.8" width="5.2" height="9" fill="#e8101a"/>
<path d="M153.2,129.6 H165 M159.1,123.8 V135.4" stroke="#0a0a0a" stroke-width="3.6"/>
<text transform="translate(160.9,90.9) rotate(-90)" font-size="7.3" font-weight="bold" text-anchor="middle" fill="#111" stroke="#111" stroke-width="0.35">ITO</text>
<text transform="translate(177.8,88.5) rotate(-90)" font-size="7.3" font-weight="bold" text-anchor="middle" fill="#fff" stroke="#fff" stroke-width="0.3">GO/PVP</text>
<path d="M168.2,146.4 H183.4 M168.2,143.4 V149.4 M183.4,143.4 V149.4" stroke="#111" stroke-width="1.4" fill="none"/>
<text x="176.1" y="158.9" font-size="7.8" text-anchor="middle" fill="#111" stroke="#111" stroke-width="0.15">1 mm</text>
</svg>
</body></html>
